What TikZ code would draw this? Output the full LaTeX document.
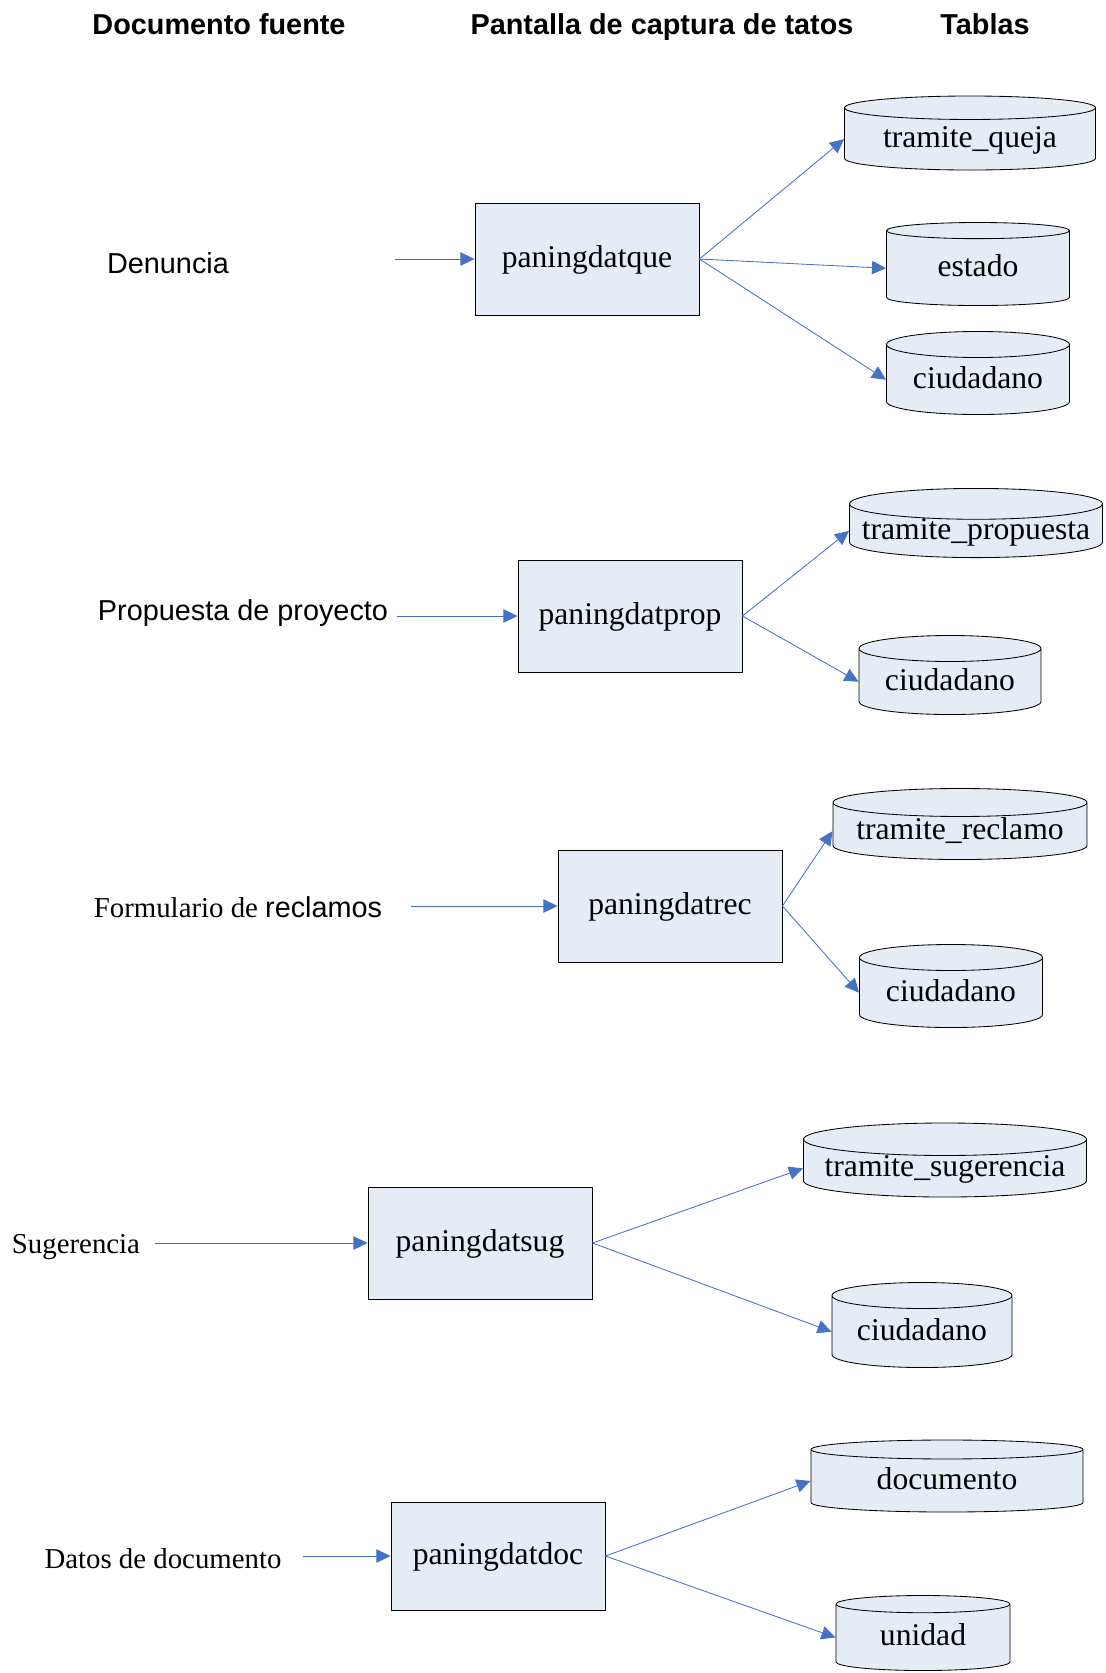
\documentclass[tikz,border=0pt]{standalone}
\usepackage{fontspec}
\setmainfont{Liberation Serif}
\newfontfamily\arialfont{Liberation Sans}
\usetikzlibrary{arrows.meta,positioning,shapes.geometric}
\definecolor{cajafondo}{RGB}{230,236,246}
\definecolor{flecha}{RGB}{68,114,196}

\begin{document}
\begin{tikzpicture}[x=0.025cm,y=-0.025cm,
  titulo/.style={anchor=base, font=\arialfont\bfseries\fontsize{20.5}{24}\selectfont},
  fuente/.style={anchor=base, font=\fontsize{20.5}{24}\selectfont},
  fuentearial/.style={anchor=base, font=\arialfont\fontsize{20.5}{24}\selectfont},
  pantalla/.style={draw, line width=0.6pt, fill=cajafondo, minimum width=5.6cm,
    minimum height=2.8cm, text height=17pt, text depth=5pt,
    font=\fontsize{22.5}{26}\selectfont},
  tabla/.style={cylinder, shape border rotate=90, aspect=0.2, anchor=shape center,
    draw, line width=0.6pt, fill=cajafondo, inner sep=0pt, text height=14pt,
    text depth=2pt, font=\fontsize{22.5}{26}\selectfont},
  tabla ancha/.style={tabla, aspect=0.135},
  flujo/.style={flecha, line width=0.6pt, -{Triangle[length=10pt,width=9.5pt]}}]
\useasboundingbox (0,0) rectangle (1106,1673);

% encabezados
\node[titulo] (hdoc) at (219,34) {Documento fuente};
\node[titulo] (hpan) at (662,34) {Pantalla de captura de tatos};
\node[titulo] (htab) at (985,34) {Tablas};

% denuncia
\node[fuentearial] (denuncia) at (168,273) {Denuncia};
\coordinate (s1) at (395,259);
\node[pantalla] (pque) at (587,259) {paningdatque};
\node[tabla ancha, minimum width=6.275cm, minimum height=1.85cm] (tque) at (970,133) {tramite\_queja};
\node[tabla, minimum width=4.575cm, minimum height=2.075cm] (estado) at (978,264) {estado};
\node[tabla, minimum width=4.575cm, minimum height=2.075cm] (ciud1) at (978,373) {ciudadano};
\draw[flujo] (s1) -- (pque);
\draw[flujo] (pque.east) -- (tque.west);
\draw[flujo] (pque.east) -- (estado.west);
\draw[flujo] (pque.east) -- (ciud1.west);

% propuesta
\node[fuentearial] (propuesta) at (243,620.5) {Propuesta de proyecto};
\coordinate (s2) at (397,616);
\node[pantalla] (pprop) at (630,616) {paningdatprop};
\node[tabla ancha, minimum width=6.325cm, minimum height=1.625cm] (tprop) at (976,523) {tramite\_propuesta};
\node[tabla, minimum width=4.55cm, minimum height=1.975cm] (ciud2) at (950,675) {ciudadano};
\draw[flujo] (s2) -- (pprop);
\draw[flujo] (pprop.east) -- (tprop.west);
\draw[flujo] (pprop.east) -- (ciud2.west);

% reclamos
\node[fuente] (formulario) at (238,917) {Formulario de {\arialfont reclamos}};
\coordinate (s3) at (411,906);
\node[pantalla] (prec) at (670,906) {paningdatrec};
\node[tabla ancha, minimum width=6.35cm, minimum height=1.775cm] (trec) at (960,824) {tramite\_reclamo};
\node[tabla, minimum width=4.575cm, minimum height=2.075cm] (ciud3) at (951,986) {ciudadano};
\draw[flujo] (s3) -- (prec);
\draw[flujo] (prec.east) -- (trec.west);
\draw[flujo] (prec.east) -- (ciud3.west);

% sugerencia
\node[fuente] (sugerencia) at (76,1253.5) {Sugerencia};
\coordinate (s4) at (155,1243);
\node[pantalla] (psug) at (480,1243) {paningdatsug};
\node[tabla ancha, minimum width=7.075cm, minimum height=1.85cm] (tsug) at (945,1160) {tramite\_sugerencia};
\node[tabla, minimum width=4.5cm, minimum height=2.125cm] (ciud4) at (922,1325) {ciudadano};
\draw[flujo] (s4) -- (psug);
\draw[flujo] (psug.east) -- (tsug.west);
\draw[flujo] (psug.east) -- (ciud4.west);

% documento
\node[fuente] (datos) at (163,1568) {Datos de documento};
\coordinate (s5) at (303,1556);
\node[pantalla, minimum width=5.35cm, minimum height=2.7cm] (pdoc) at (498,1556) {paningdatdoc};
\node[tabla ancha, minimum width=6.8cm, minimum height=1.8cm] (docu) at (947,1476) {documento};
\node[tabla, minimum width=4.35cm, minimum height=1.875cm] (unidad) at (923,1633) {unidad};
\draw[flujo] (s5) -- (pdoc);
\draw[flujo] (pdoc.east) -- (docu.west);
\draw[flujo] (pdoc.east) -- (unidad.west);
\end{tikzpicture}
\end{document}
